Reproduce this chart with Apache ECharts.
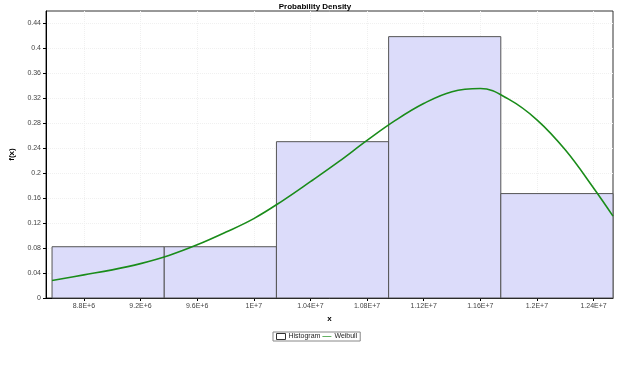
<!DOCTYPE html>
<html>
<head>
<meta charset="utf-8">
<script src="https://cdn.jsdelivr.net/npm/echarts@6/dist/echarts.min.js"></script>
<style>html,body{margin:0;padding:0;background:#fff;}#c{width:623px;height:377px;}</style>
</head>
<body>
<div id="c"></div>
<script>
// Histogram bins (edges) and density heights
var binEdges = [8575000, 9367500, 10160000, 10952500, 11745000, 12537500];
var binHeights = [0.082, 0.082, 0.250, 0.418, 0.167];
// Weibull density curve samples
var curveX = [8575000, 8800000, 9000000, 9200000, 9400000, 9600000, 9800000, 10000000, 10200000, 10400000, 10600000, 10800000, 11000000, 11200000, 11400000, 11600000, 11800000, 12000000, 12200000, 12400000, 12537500];
var curveY = [0.028, 0.037, 0.045, 0.055, 0.068, 0.085, 0.105, 0.127, 0.155, 0.186, 0.218, 0.252, 0.284, 0.311, 0.330, 0.335, 0.318, 0.285, 0.237, 0.176, 0.131];
// Tick values
var xTicks = [8800000, 9200000, 9600000, 10000000, 10400000, 10800000, 11200000, 11600000, 12000000, 12400000];
var yTicks = [0, 0.04, 0.08, 0.12, 0.16, 0.2, 0.24, 0.28, 0.32, 0.36, 0.4, 0.44];

function fmtE(v) {
  var e = Math.floor(Math.log10(v));
  var m = v / Math.pow(10, e);
  m = parseFloat(m.toFixed(3));
  return String(m) + 'E+' + e;
}

var histData = [];
for (var i = 0; i < binHeights.length; i++) {
  histData.push([binEdges[i], binEdges[i + 1], binHeights[i]]);
}
var lineData = curveX.map(function (x, i) { return [x, curveY[i]]; });

var chart = echarts.init(document.getElementById('c'), null, {renderer: 'canvas'});
chart.setOption({
  animation: false,
  backgroundColor: '#fff',
  textStyle: {fontFamily: 'Liberation Sans, Arial, sans-serif'},
  title: {
    text: 'Probability Density', left: 310, textAlign: 'center', top: -2,
    textStyle: {fontSize: 8, fontWeight: 'bold', color: '#000'}
  },
  legend: {
    left: 273, top: 332,
    borderColor: '#888', borderWidth: 1, padding: [1, 3, 1, 3],
    itemGap: 2, itemWidth: 9, itemHeight: 6,
    textStyle: {fontSize: 7, color: '#222', padding: [0, 0, 0, -2]},
    data: [
      {name: 'Histogram', icon: 'rect', itemStyle: {color: '#fff', borderColor: '#333', borderWidth: 1}},
      {name: 'Weibull', icon: 'path://M0,4L20,4L20,5.5L0,5.5Z', itemStyle: {color: '#1a8c1a'}}
    ]
  },
  grid: {left: 44, right: 10, top: 11, bottom: 79, show: true, borderColor: '#333', borderWidth: 1, backgroundColor: '#fff'},
  xAxis: {
    type: 'value', min: 8532300, max: 12537500,
    name: 'x', nameLocation: 'middle', nameGap: 12,
    nameTextStyle: {fontSize: 8, fontWeight: 'bold', color: '#000'},
    axisLine: {show: true, lineStyle: {color: '#000', width: 1}},
    axisTick: {show: true, length: 3, customValues: xTicks, lineStyle: {color: '#000'}},
    axisLabel: {customValues: xTicks, fontSize: 7, color: '#444', margin: 5, formatter: fmtE},
    splitLine: {show: true, lineStyle: {color: '#f0f0f0', type: 'dotted'}}
  },
  yAxis: {
    type: 'value', min: 0, max: 0.459,
    name: 'f(x)', nameLocation: 'middle', nameGap: 30, nameRotate: 90,
    nameTextStyle: {fontSize: 8, fontWeight: 'bold', color: '#000'},
    axisLine: {show: true, lineStyle: {color: '#000', width: 1}},
    axisTick: {show: true, length: 3, customValues: yTicks, lineStyle: {color: '#000'}},
    axisLabel: {customValues: yTicks, fontSize: 7, color: '#444', margin: 5,
      formatter: function (v) { return String(parseFloat(v.toFixed(2))); }},
    splitLine: {show: true, lineStyle: {color: '#f0f0f0', type: 'dotted'}}
  },
  series: [
    {
      name: 'Histogram', type: 'custom',
      itemStyle: {color: '#dcdcfa', borderColor: '#555'},
      encode: {x: [0, 1], y: 2},
      renderItem: function (params, api) {
        var p0 = api.coord([api.value(0), 0]);
        var p1 = api.coord([api.value(1), api.value(2)]);
        return {
          type: 'rect',
          shape: {x: p0[0], y: p1[1], width: p1[0] - p0[0], height: p0[1] - p1[1]},
          style: {fill: '#dcdcfa', stroke: '#555', lineWidth: 1}
        };
      },
      data: histData, z: 1
    },
    {
      name: 'Weibull', type: 'line', smooth: 0.4, smoothConstraint: false, symbol: 'none',
      lineStyle: {color: '#1a8c1a', width: 1.6}, itemStyle: {color: '#1a8c1a'},
      data: lineData, z: 3
    }
  ]
});
</script>
</body>
</html>
